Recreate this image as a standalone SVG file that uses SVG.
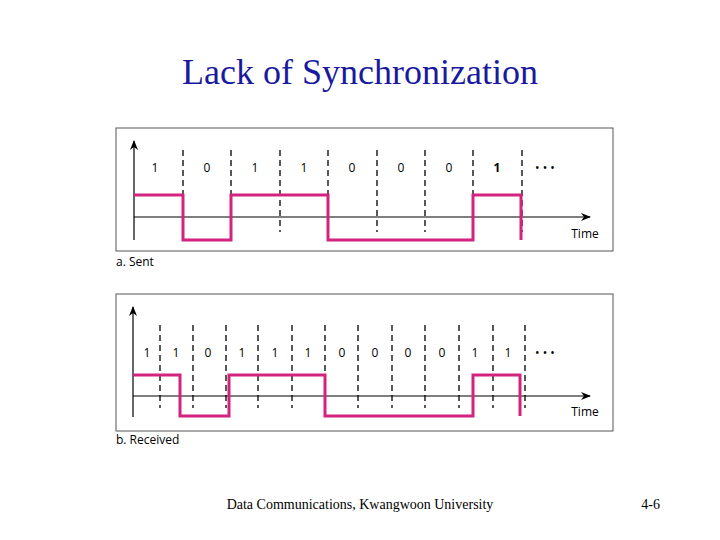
<svg xmlns="http://www.w3.org/2000/svg" width="720" height="540" viewBox="0 0 720 540">
<defs>
<marker id="ar" markerWidth="10" markerHeight="8" refX="9" refY="4" orient="auto" markerUnits="userSpaceOnUse"><path d="M0,0 L10,4 L0,8 L3,4 Z" fill="#000"/></marker>
<style>
.box{fill:#fff;stroke:#555;stroke-width:1}
.ax{stroke:#000;stroke-width:1.2;fill:none;marker-end:url(#ar)}
.d{stroke:#000;stroke-width:1.3;stroke-dasharray:6,4}
.sig{stroke:#d4237f;stroke-width:3;fill:none}
.t{font-family:"Open Sans","DejaVu Sans",sans-serif;font-size:12px;fill:#000;text-anchor:middle}
.c{font-family:"Open Sans","DejaVu Sans",sans-serif;font-size:12px;fill:#000}
.s{font-family:"Liberation Serif",serif;fill:#000}
</style>
</defs>
<rect width="720" height="540" fill="#fff"/>
<text class="s" x="360" y="84" font-size="36" text-anchor="middle" style="fill:#1a1a9e">Lack of Synchronization</text>
<g id="sent">
<rect class="box" x="116" y="128" width="497" height="123"/>
<g class="d"><line x1="183" y1="150" x2="183" y2="232"/><line x1="231" y1="150" x2="231" y2="232"/><line x1="280" y1="150" x2="280" y2="232"/><line x1="328" y1="150" x2="328" y2="232"/><line x1="377" y1="150" x2="377" y2="232"/><line x1="425" y1="150" x2="425" y2="232"/><line x1="473" y1="150" x2="473" y2="232"/><line x1="522" y1="150" x2="522" y2="232"/></g>
<line class="ax" x1="134" y1="240" x2="134" y2="141"/>
<line class="ax" x1="134" y1="217" x2="590" y2="217"/>
<polyline class="sig" points="134,195 183,195 183,240 231,240 231,195 328,195 328,240 473,240 473,195 521,195 521,240"/>
<g class="t"><text x="155" y="172">1</text><text x="207" y="172">0</text><text x="255" y="172">1</text><text x="304" y="172">1</text><text x="352" y="172">0</text><text x="401" y="172">0</text><text x="449" y="172">0</text><text x="497" y="172" font-weight="bold">1</text><text x="545" y="172">• • •</text><text x="585" y="238">Time</text></g>
<text class="c" x="116" y="266">a. Sent</text>
</g>
<g id="received">
<rect class="box" x="116" y="294" width="497" height="137"/>
<g class="d"><line x1="160" y1="325" x2="160" y2="408"/><line x1="193" y1="325" x2="193" y2="408"/><line x1="226" y1="325" x2="226" y2="408"/><line x1="258" y1="325" x2="258" y2="408"/><line x1="292" y1="325" x2="292" y2="408"/><line x1="325" y1="325" x2="325" y2="408"/><line x1="358" y1="325" x2="358" y2="408"/><line x1="392" y1="325" x2="392" y2="408"/><line x1="425" y1="325" x2="425" y2="408"/><line x1="459" y1="325" x2="459" y2="408"/><line x1="493" y1="325" x2="493" y2="408"/><line x1="525" y1="325" x2="525" y2="408"/></g>
<line class="ax" x1="133" y1="417" x2="133" y2="307"/>
<line class="ax" x1="133" y1="396" x2="590" y2="396"/>
<polyline class="sig" points="133,375 180,375 180,416 229,416 229,375 325,375 325,416 473,416 473,375 520,375 520,416"/>
<g class="t"><text x="147" y="357">1</text><text x="176" y="357">1</text><text x="208" y="357">0</text><text x="242" y="357">1</text><text x="275" y="357">1</text><text x="308" y="357">1</text><text x="342" y="357">0</text><text x="375" y="357">0</text><text x="408" y="357">0</text><text x="442" y="357">0</text><text x="475" y="357">1</text><text x="508" y="357">1</text><text x="545" y="357">• • •</text><text x="585" y="416">Time</text></g>
<text class="c" x="116" y="444">b. Received</text>
</g>
<text class="s" x="360" y="509" font-size="14" text-anchor="middle">Data Communications, Kwangwoon University</text>
<text class="s" x="660" y="509" font-size="14" text-anchor="end">4-6</text>
</svg>
